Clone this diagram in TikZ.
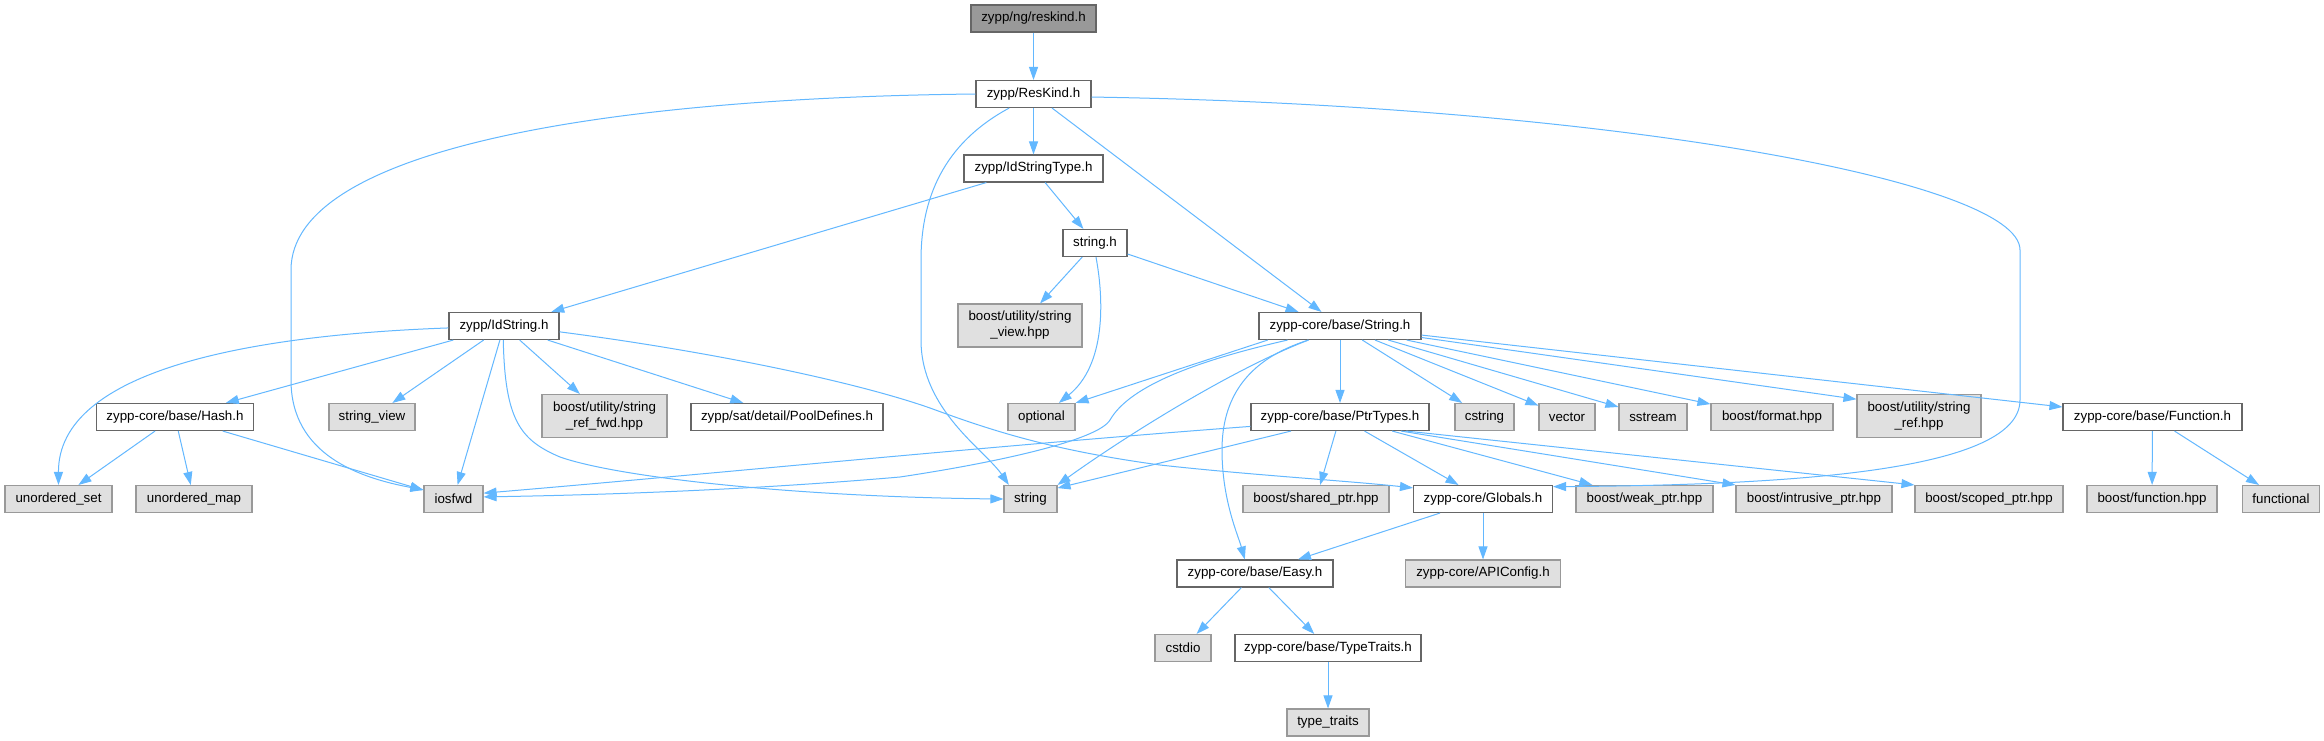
\documentclass[tikz,border=0pt]{standalone}
\usepackage{fontspec}
\setmainfont{Liberation Sans}
\usetikzlibrary{arrows.meta}
\definecolor{edgec}{HTML}{63B8FF}
\definecolor{bdark}{HTML}{666666}
\definecolor{bgray}{HTML}{999999}
\definecolor{fgray}{HTML}{E0E0E0}
\begin{document}
\begin{tikzpicture}[x=1pt,y=-1pt,
  box/.style={draw=bdark, fill=white, line width=1.1pt, minimum height=27pt, inner sep=0pt,
    font=\fontsize{13.33pt}{16pt}\selectfont, align=center},
  ext/.style={box, draw=bgray, fill=fgray},
  rootbox/.style={box, fill=bgray},
  edge/.style={draw=edgec, line width=1pt, -{Triangle[length=13pt,width=9pt]}}]
\useasboundingbox[fill=white] (0,0) rectangle (2324,741);

% nodes
\node[rootbox, minimum width=125pt] (reskind) at (1033.5,18.5) {zypp/ng/reskind.h};
\node[box, minimum width=115pt] (ResKind) at (1033.5,94) {zypp/ResKind.h};
\node[box, minimum width=139pt] (IdStringType) at (1033.5,168.5) {zypp/IdStringType.h};
\node[box, minimum width=64pt] (stringh) at (1095,243) {string.h};
\node[ext, minimum width=124pt, minimum height=43pt] (svhpp) at (1020,325.5) {boost/utility/string\\\_view.hpp};
\node[box, minimum width=110pt] (IdString) at (504,326) {zypp/IdString.h};
\node[box, minimum width=162pt] (Stringh) at (1340,326) {zypp-core/base/String.h};
\node[box, minimum width=157pt] (Hash) at (175,417) {zypp-core/base/Hash.h};
\node[ext, minimum width=86pt] (sview) at (372,417) {string\_view};
\node[ext, minimum width=125pt, minimum height=43pt] (srfwd) at (604.5,416) {boost/utility/string\\\_ref\_fwd.hpp};
\node[box, minimum width=192pt] (Pool) at (787,417) {zypp/sat/detail/PoolDefines.h};
\node[ext, minimum width=67pt] (optional) at (1041.5,417) {optional};
\node[box, minimum width=178pt] (PtrTypes) at (1340,417) {zypp-core/base/PtrTypes.h};
\node[ext, minimum width=59pt] (cstring) at (1484.5,417) {cstring};
\node[ext, minimum width=56pt] (vector) at (1567,417) {vector};
\node[ext, minimum width=68pt] (sstream) at (1653,417) {sstream};
\node[ext, minimum width=122pt] (format) at (1772,417) {boost/format.hpp};
\node[ext, minimum width=124pt, minimum height=43pt] (sref) at (1919,416) {boost/utility/string\\\_ref.hpp};
\node[box, minimum width=179pt] (Function) at (2152.5,417) {zypp-core/base/Function.h};
\node[ext, minimum width=107pt] (uset) at (58.5,499) {unordered\_set};
\node[ext, minimum width=116pt] (umap) at (194,499) {unordered\_map};
\node[ext, minimum width=59pt] (iosfwd) at (453.5,499) {iosfwd};
\node[ext, minimum width=53pt] (string) at (1030.5,499) {string};
\node[ext, minimum width=146pt] (shared) at (1316,499) {boost/shared\_ptr.hpp};
\node[box, minimum width=139pt] (Globals) at (1483,499) {zypp-core/Globals.h};
\node[ext, minimum width=137pt] (weak) at (1644.5,499) {boost/weak\_ptr.hpp};
\node[ext, minimum width=156pt] (intrusive) at (1814,499) {boost/intrusive\_ptr.hpp};
\node[ext, minimum width=148pt] (scoped) at (1989,499) {boost/scoped\_ptr.hpp};
\node[ext, minimum width=130pt] (bfunction) at (2152,499) {boost/function.hpp};
\node[ext, minimum width=77pt] (functional) at (2281,499) {functional};
\node[box, minimum width=156pt] (Easy) at (1255,573.5) {zypp-core/base/Easy.h};
\node[ext, minimum width=155pt] (APIConfig) at (1483,573.5) {zypp-core/APIConfig.h};
\node[ext, minimum width=56pt] (cstdio) at (1183,648) {cstdio};
\node[box, minimum width=186pt] (TypeTraits) at (1328,648) {zypp-core/base/TypeTraits.h};
\node[ext, minimum width=82pt] (typetraits) at (1328,722.5) {type\_traits};

% edges
\draw[edge] (reskind) -- (ResKind);
\draw[edge] (ResKind) -- (IdStringType);
\draw[edge] (ResKind.west) .. controls (600,98) and (291,150) .. (291,270) -- (291,380)
  .. controls (291,455) and (360,478) .. (iosfwd.163);
\draw[edge] (ResKind.210) .. controls (950,140) and (921,190) .. (921,260) -- (921,340)
  .. controls (921,410) and (985,450) .. (string.147);
\draw[edge] (ResKind) -- (Stringh);
\draw[edge] (ResKind.-3) .. controls (1600,105) and (2020,180) .. (2020,250) -- (2020,400)
  .. controls (2020,470) and (1800,485) .. (Globals.10);

\draw[edge] (IdStringType) -- (IdString);
\draw[edge] (IdStringType) -- (stringh);
\draw[edge] (stringh) -- (svhpp);
\draw[edge] (stringh.-86) .. controls (1104,300) and (1106,365) .. (optional.39);
\draw[edge] (stringh) -- (Stringh);

\draw[edge] (IdString.182) .. controls (250,335) and (58,370) .. (uset.north);
\draw[edge] (IdString) -- (Hash);
\draw[edge] (IdString) -- (sview);
\draw[edge] (IdString) -- (iosfwd);
\draw[edge] (IdString.-93) .. controls (505,420) and (520,440) .. (560,457)
  .. controls (620,478) and (800,497) .. (string.west);
\draw[edge] (IdString) -- (srfwd);
\draw[edge] (IdString) -- (Pool);
\draw[edge] (IdString.-6) .. controls (700,350) and (850,380) .. (930,408)
  .. controls (990,430) and (1050,450) .. (1160,465)
  .. controls (1250,475) and (1350,481) .. (Globals.171);

\draw[edge] (Hash) -- (uset);
\draw[edge] (Hash) -- (umap);
\draw[edge] (Hash) -- (iosfwd);

\draw[edge] (Stringh.191) -- (optional.north east);
\draw[edge] (Stringh.195) .. controls (1200,360) and (1130,385) .. (1110,420)
  .. controls (1098,440) and (1000,462) .. (900,477)
  .. controls (750,490) and (600,495) .. (iosfwd.4);
\draw[edge] (Stringh.204) .. controls (1230,370) and (1120,440) .. (string.north east);
\draw[edge] (Stringh.204) .. controls (1245,360) and (1222,400) .. (1222,450)
  .. controls (1222,500) and (1238,535) .. (Easy.126);
\draw[edge] (Stringh) -- (PtrTypes);
\draw[edge] (Stringh) -- (cstring);
\draw[edge] (Stringh) -- (vector);
\draw[edge] (Stringh) -- (sstream);
\draw[edge] (Stringh) -- (format);
\draw[edge] (Stringh) -- (sref.165);
\draw[edge] (Stringh) -- (Function);

\draw[edge] (PtrTypes.186) .. controls (1000,445) and (700,475) .. (iosfwd.11);
\draw[edge] (PtrTypes.196) -- (string.22);
\draw[edge] (PtrTypes) -- (shared);
\draw[edge] (PtrTypes) -- (Globals);
\draw[edge] (PtrTypes) -- (weak);
\draw[edge] (PtrTypes.-13) -- (intrusive.north west);
\draw[edge] (PtrTypes.-12) -- (scoped.north west);

\draw[edge] (Function) -- (bfunction);
\draw[edge] (Function) -- (functional);
\draw[edge] (Globals) -- (Easy);
\draw[edge] (Globals) -- (APIConfig);
\draw[edge] (Easy) -- (cstdio);
\draw[edge] (Easy) -- (TypeTraits);
\draw[edge] (TypeTraits) -- (typetraits);
\end{tikzpicture}
\end{document}
